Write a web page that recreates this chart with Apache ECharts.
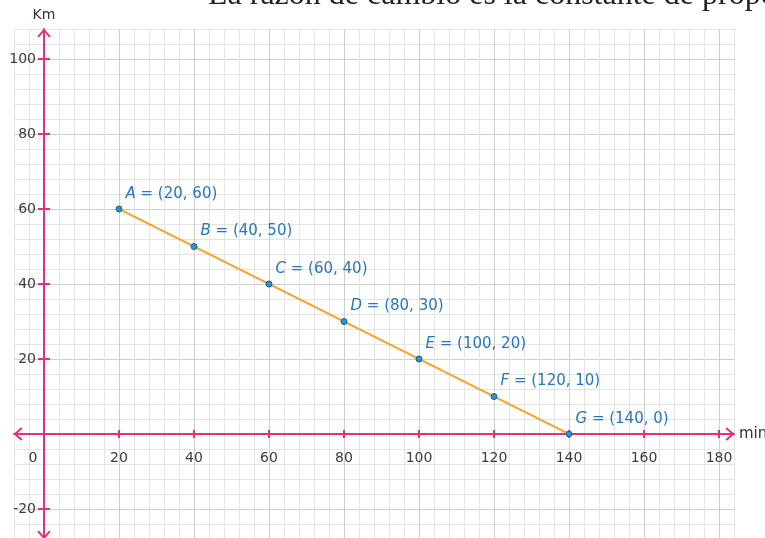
<!DOCTYPE html>
<html>
<head>
<meta charset="utf-8">
<script src="https://cdn.jsdelivr.net/npm/echarts@6/dist/echarts.min.js"></script>
<style>
html,body{margin:0;padding:0;background:#fff;}
#c{width:765px;height:538px;}
</style>
</head>
<body>
<div id="c"></div>
<script>
const pointNames = ['A', 'B', 'C', 'D', 'E', 'F', 'G'];
const minutes = [20, 40, 60, 80, 100, 120, 140];
const km = [60, 50, 40, 30, 20, 10, 0];
const xTickValues = [20, 40, 60, 80, 100, 120, 140, 160, 180];
const xLabelValues = [0, 20, 40, 60, 80, 100, 120, 140, 160, 180];
const yTickValues = [-20, 20, 40, 60, 80, 100];
const yLabelValues = [-20, 20, 40, 60, 80, 100];
const titleText = 'La razón de cambio es la constante de proporcionalidad.';
const xName = 'min';
const yName = 'Km';

const PINK = '#e2307f';
const MINOR = '#e4e4e4';
const MAJOR = '#cfcfcf';
const gridColors = [MINOR, MINOR, MAJOR, MINOR, MINOR];
const chevron = 'path://M0,8 L7,0 L14,8 L12.4,9.4 L7,3.2 L1.6,9.4 Z';
const labelFont = '"DejaVu Sans"';
const X_RANGE = {min: -8, max: 184, interval: 4};
const Y_RANGE = {min: -28, max: 108, interval: 4};

// layout (pixels): plot box and where the zero lines fall inside it
const GRID = {left: 14, top: 29, width: 720, height: 510};
const X_ZERO_FROM_TOP = 405;     // y = 0 line, measured from plot top
const Y_ZERO_FROM_LEFT = 30;     // x = 0 line, measured from plot left

const chart = echarts.init(document.getElementById('c'), null, {renderer: 'canvas'});

const points = minutes.map((m, i) => ({name: pointNames[i], value: [m, km[i]]}));

const hidden = {
  axisLine: {show: false, onZero: false},
  axisLabel: {show: false},
  axisTick: {show: false},
  splitLine: {show: false}
};

chart.setOption({
  animation: false,
  backgroundColor: '#fff',
  graphic: [{
    type: 'text',
    left: 208,
    top: -20,
    style: {
      text: titleText,
      font: '32px "Liberation Serif", "DejaVu Serif", serif',
      fill: '#222'
    }
  }],
  grid: {...GRID, containLabel: false, outerBoundsMode: 'none'},
  xAxis: [{
    type: 'value', ...X_RANGE,
    position: 'bottom',
    offset: -(GRID.height - X_ZERO_FROM_TOP),
    name: xName,
    nameLocation: 'end',
    nameGap: 5,
    nameTextStyle: {fontFamily: labelFont, fontSize: 15, color: '#333', verticalAlign: 'middle'},
    axisLine: {
      show: true, onZero: false,
      symbol: [chevron, chevron], symbolSize: [15, 9], symbolOffset: [4, -4],
      lineStyle: {color: PINK, width: 2}
    },
    axisTick: {show: true, customValues: xTickValues, length: 4, lineStyle: {color: PINK, width: 2}},
    axisLabel: {
      show: true, customValues: xLabelValues, margin: 17,
      fontFamily: labelFont, fontSize: 14, color: '#3c3c3c',
      formatter: v => v === 0 ? '{o|0}' : String(v),
      rich: {o: {fontFamily: labelFont, fontSize: 14, color: '#3c3c3c', padding: [0, 22, 0, 0]}}
    },
    splitLine: {show: false},
    z: 3
  }, {
    type: 'value', ...X_RANGE,
    position: 'top',
    offset: -X_ZERO_FROM_TOP,
    ...hidden,
    axisTick: {show: true, customValues: xTickValues, length: 4, lineStyle: {color: PINK, width: 2}},
    z: 3
  }, {
    type: 'value', ...X_RANGE,
    position: 'bottom',
    ...hidden,
    splitLine: {show: true, lineStyle: {color: gridColors, width: 1}},
    z: 0
  }],
  yAxis: [{
    type: 'value', ...Y_RANGE,
    position: 'left',
    offset: -Y_ZERO_FROM_LEFT,
    name: yName,
    nameLocation: 'end',
    nameGap: 7,
    nameTextStyle: {fontFamily: labelFont, fontSize: 14, color: '#333'},
    axisLine: {
      show: true, onZero: false,
      symbol: [chevron, chevron], symbolSize: [15, 9], symbolOffset: [4, -4],
      lineStyle: {color: PINK, width: 2}
    },
    axisTick: {show: true, customValues: yTickValues, length: 6, lineStyle: {color: PINK, width: 2}},
    axisLabel: {
      show: true, customValues: yLabelValues, margin: 8,
      fontFamily: labelFont, fontSize: 14, color: '#3c3c3c'
    },
    splitLine: {show: false},
    z: 3
  }, {
    type: 'value', ...Y_RANGE,
    position: 'right',
    offset: -(GRID.width - Y_ZERO_FROM_LEFT),
    ...hidden,
    axisTick: {show: true, customValues: yTickValues, length: 6, lineStyle: {color: PINK, width: 2}},
    z: 3
  }, {
    type: 'value', ...Y_RANGE,
    position: 'left',
    ...hidden,
    splitLine: {show: true, lineStyle: {color: gridColors, width: 1}},
    z: 0
  }],
  series: [{
    type: 'line',
    xAxisIndex: 0,
    yAxisIndex: 0,
    data: points,
    symbol: 'circle',
    symbolSize: 6,
    lineStyle: {color: '#f4aa36', width: 2},
    itemStyle: {color: '#2b93d1', borderColor: '#1c5f91', borderWidth: 1},
    label: {
      show: true,
      position: 'right',
      distance: 3,
      offset: [0, -15],
      formatter: p => '{n|' + p.name + '}{t| = (' + p.value[0] + ', ' + p.value[1] + ')}',
      rich: {
        n: {fontFamily: labelFont, fontSize: 15, fontStyle: 'italic', color: '#2677bd'},
        t: {fontFamily: labelFont, fontSize: 15, color: '#2677bd'}
      }
    },
    z: 5
  }]
});
</script>
</body>
</html>
